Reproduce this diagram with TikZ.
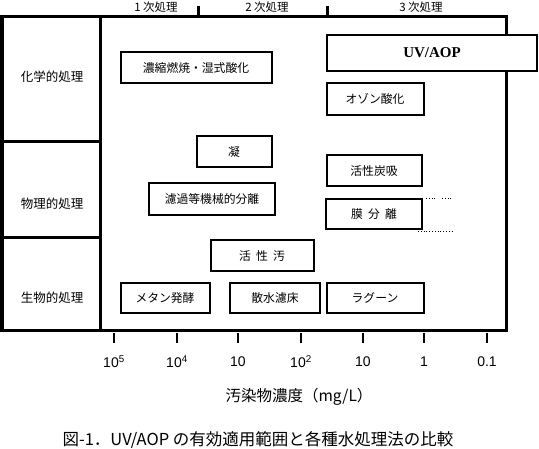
\documentclass[tikz,border=0pt]{standalone}
\usepackage{fontspec}
\setmainfont{Noto Sans CJK JP}
\newfontfamily\uvfont{Liberation Serif}
\newfontfamily\numfont{Liberation Sans}
\usepackage{tikz}
\usetikzlibrary{positioning,calc}
\tikzset{
wtbox/.style={rectangle,draw,line width=2pt,fill=white,align=center,inner sep=0pt,font=\fontsize{11.8}{13}\selectfont},
wtframe/.style={line width=3pt},
wtcat/.style={font=\fontsize{12.5}{14}\selectfont,inner sep=0pt},
wtstage/.style={font=\fontsize{11.5}{13}\selectfont,inner sep=0pt},
wttick/.style={line width=1.6pt},
wtnum/.style={font=\numfont\fontsize{14}{16}\selectfont,inner sep=0pt},
wtdots/.style={dotted,line width=0.8pt}
}
\begin{document}
\begin{tikzpicture}[
x=1pt,
y=-1pt
]
\useasboundingbox (0,0) rectangle (539,449);
% frame and category column
\draw[wtframe] (2,17) rectangle (506,331);
\draw[wtframe] (100,17) -- (100,331);
\draw[wtframe] (2,142) -- (100,142);
\draw[wtframe] (2,238) -- (100,238);
\draw[wtframe] (198,17) -- (198,6);
\draw[wtframe] (327,17) -- (327,6);
\node[wtstage] (stage1) at (156,7) {1 次処理};
\node[wtstage] (stage2) at (267,7) {2 次処理};
\node[wtstage] (stage3) at (421,7) {3 次処理};
\node[wtcat] (chem) at (52,77) {化学的処理};
\node[wtcat] (phys) at (52,204) {物理的処理};
\node[wtcat] (bio) at (52,298) {生物的処理};
% processes
\node[wtbox,minimum width=210pt,minimum height=36pt,line width=2.6pt,font=\uvfont\bfseries\fontsize{15}{16}\selectfont]
  (uvaop) at (432,53) {UV/AOP};
\node[wtbox,minimum width=151pt,minimum height=31pt] (incin) at (196,68) {濃縮燃焼・湿式酸化};
\node[wtbox,minimum width=97pt,minimum height=32pt] (ozone) at (375,99) {オゾン酸化};
\node[wtbox,minimum width=75pt,minimum height=31pt] (coag) at (234,152) {凝};
\node[wtbox,minimum width=95pt,minimum height=31pt] (carbon) at (374,171) {活性炭吸};
\node[wtbox,minimum width=126pt,minimum height=32pt] (filt) at (212,199) {濾過等機械的分離};
\node[wtbox,minimum width=96pt,minimum height=30pt] (memb) at (374,214) {膜\ \ 分\ \ 離};
\node[wtbox,minimum width=103pt,minimum height=31pt] (sludge) at (262,256) {活\ \ 性\ \ 汚};
\node[wtbox,minimum width=89pt,minimum height=30pt] (methane) at (165,298) {メタン発酵};
\node[wtbox,minimum width=90pt,minimum height=30pt] (trick) at (275,298) {散水濾床};
\node[wtbox,minimum width=97pt,minimum height=30pt] (lagoon) at (375,298) {ラグーン};
\draw[wtdots] ([xshift=3pt]memb.north east) -- ++(10,0);
\draw[wtdots] ([xshift=19pt]memb.north east) -- ++(11,0);
\draw[wtdots] ([xshift=-5pt,yshift=-1pt]memb.south east) -- ++(35,0);
% concentration axis
\foreach \xx/\lab [count=\i] in {114/10\textsuperscript{5},177/10\textsuperscript{4},238/10,301/10\textsuperscript{2},363/10,424/1,487/0.1}{
  \draw[wttick] (\xx,333) -- (\xx,343);
  \node[wtnum] (num\i) at (\xx,362) {\lab};
}
\node[font=\fontsize{15.5}{17}\selectfont] (axis) at (299,397) {汚染物濃度（mg/L）};
\node[font=\fontsize{16.5}{18}\selectfont] (caption) at (258,440) {図-1．UV/AOP の有効適用範囲と各種水処理法の比較};
\end{tikzpicture}
\end{document}
